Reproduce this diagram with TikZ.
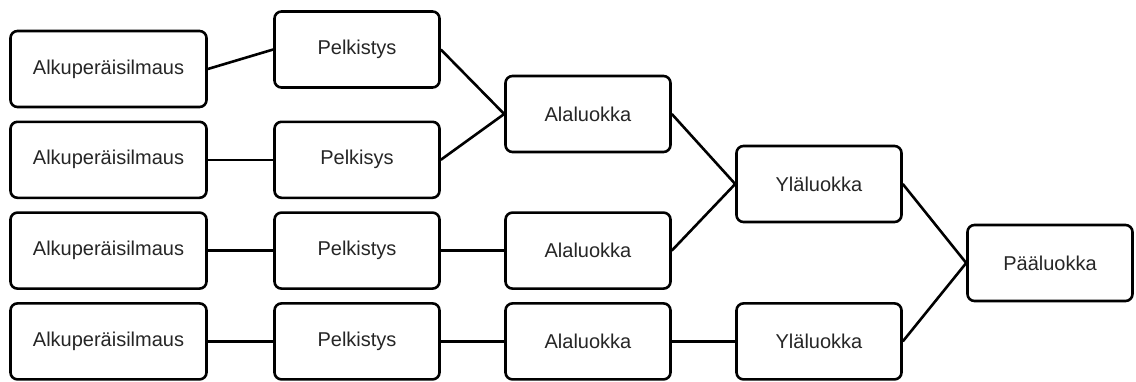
\documentclass[tikz,border=0pt]{standalone}
\usepackage{fontspec}
\setmainfont{Liberation Sans}
\usepackage{tikz}
\usetikzlibrary{positioning}

\begin{document}
\begin{tikzpicture}[
    x=1pt, y=1pt,
    node distance=90.8pt,
    box/.style={rectangle, rounded corners=7pt, draw, line width=2.6pt, fill=white, text=black!85, minimum width=165pt, minimum height=76pt, font=\fontsize{20}{24}\selectfont},
    boxw/.style={box, minimum width=196pt},
    link/.style={line width=2.6pt}
  ]
    \useasboundingbox (0,0) rectangle (1136,-381);
    \node[boxw] (alkA) at (108.5,-69) {Alkuperäisilmaus};
    \node[boxw, below of=alkA] (alkB) {Alkuperäisilmaus};
    \node[boxw, below of=alkB] (alkC) {Alkuperäisilmaus};
    \node[boxw, below of=alkC] (alkD) {Alkuperäisilmaus};

    \node[box, right of=alkA, node distance=248.5pt, yshift=19.5pt] (pelA) {Pelkistys};
    \node[box, right of=alkB, node distance=248.5pt] (pelB) {Pelkisys};
    \node[box, right of=alkC, node distance=248.5pt] (pelC) {Pelkistys};
    \node[box, right of=alkD, node distance=248.5pt] (pelD) {Pelkistys};

    \node[box, right of=pelB, node distance=231pt, yshift=45.8pt] (alaA) {Alaluokka};
    \node[box, right of=pelC, node distance=231pt] (alaC) {Alaluokka};
    \node[box, right of=pelD, node distance=231pt] (alaD) {Alaluokka};

    \node[box, right of=alaC, node distance=231pt, yshift=66.6pt] (ylaA) {Yläluokka};
    \node[box, right of=alaD, node distance=231pt] (ylaD) {Yläluokka};

    \node[box, right of=ylaD, node distance=231pt, yshift=78.4pt] (paa) {Pääluokka};

    \draw[link] (alkA.east) -- (pelA.west);
    \draw[link] (alkB.east) -- (pelB.west);
    \draw[link] (alkC.east) -- (pelC.west);
    \draw[link] (alkD.east) -- (pelD.west);
    \draw[link] (pelA.east) -- (alaA.west);
    \draw[link] (pelB.east) -- (alaA.west);
    \draw[link] (pelC.east) -- (alaC.west);
    \draw[link] (pelD.east) -- (alaD.west);
    \draw[link] (alaA.east) -- (ylaA.west);
    \draw[link] (alaC.east) -- (ylaA.west);
    \draw[link] (alaD.east) -- (ylaD.west);
    \draw[link] (ylaA.east) -- (paa.west);
    \draw[link] (ylaD.east) -- (paa.west);
  \end{tikzpicture}
\end{document}
